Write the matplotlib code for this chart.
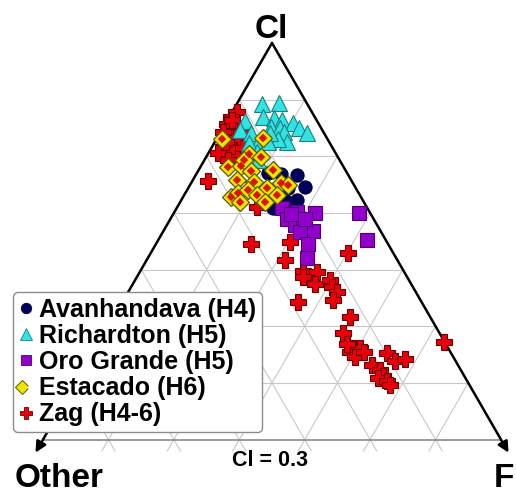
import numpy as np
import matplotlib
matplotlib.use("Agg")
import matplotlib.pyplot as plt
from matplotlib.lines import Line2D
from matplotlib.legend_handler import HandlerTuple

plt.rcParams['font.family'] = ['Liberation Sans', 'DejaVu Sans']

# ---- data: ternary fractions (Cl, F); Other = 1 - Cl - F ----
avan_cl = [0.771, 0.769, 0.767, 0.746, 0.723, 0.744, 0.728, 0.709, 0.718, 0.741]
avan_f  = [0.108, 0.130, 0.155, 0.178, 0.177, 0.153, 0.153, 0.147, 0.169, 0.136]

rich_cl = [0.893, 0.894, 0.869, 0.867, 0.864, 0.859, 0.862, 0.847, 0.841, 0.852, 0.850,
           0.843, 0.850, 0.841, 0.825, 0.831, 0.841, 0.820, 0.825, 0.824, 0.808, 0.794]
rich_f  = [0.038, 0.064, 0.052, 0.070, 0.083, 0.102, 0.028, 0.028, 0.047, 0.072, 0.087,
           0.097, 0.116, 0.133, 0.110, 0.094, 0.076, 0.067, 0.081, 0.053, 0.073, 0.082]

oro_cl = [0.709, 0.702, 0.700, 0.700, 0.690, 0.679, 0.676, 0.668, 0.667, 0.646, 0.621,
          0.653, 0.698, 0.690]
oro_f  = [0.161, 0.187, 0.216, 0.283, 0.178, 0.196, 0.210, 0.229, 0.210, 0.232, 0.243,
          0.319, 0.180, 0.206]

esta_cl = [0.831, 0.832, 0.804, 0.799, 0.781, 0.783, 0.774, 0.776, 0.758, 0.755, 0.753,
           0.750, 0.744, 0.728, 0.735, 0.741, 0.732, 0.720, 0.732, 0.720, 0.794]
esta_f  = [0.008, 0.070, 0.063, 0.084, 0.042, 0.061, 0.081, 0.114, 0.068, 0.095, 0.138,
           0.150, 0.121, 0.074, 0.081, 0.093, 0.111, 0.130, 0.142, 0.091, 0.060]

zag_cl = [0.878, 0.869, 0.857, 0.855, 0.843, 0.834, 0.829, 0.817, 0.811, 0.799, 0.806,
          0.794, 0.815, 0.843, 0.825, 0.864, 0.757, 0.711, 0.646, 0.649, 0.617, 0.630,
          0.598, 0.596, 0.587, 0.575, 0.582, 0.570, 0.561, 0.547, 0.543, 0.517, 0.489,
          0.462, 0.462, 0.455, 0.446, 0.452, 0.439, 0.443, 0.432, 0.423, 0.413, 0.409,
          0.404, 0.397, 0.473, 0.468, 0.455]
zag_f  = [0.008, 0.003, 0.003, 0.013, 0.030, 0.019, 0.037, 0.017, 0.035, 0.049, 0.015,
          0.036, 0.048, 0.003, 0.017, 0.007, 0.024, 0.122, 0.145, 0.203, 0.211, 0.301,
          0.249, 0.271, 0.254, 0.278, 0.298, 0.307, 0.319, 0.320, 0.268, 0.361, 0.364,
          0.393, 0.404, 0.392, 0.404, 0.450, 0.469, 0.482, 0.437, 0.454, 0.463, 0.458,
          0.474, 0.482, 0.527, 0.381, 0.413]

labels = ["Avanhandava (H4)", "Richardton (H5)", "Oro Grande (H5)", "Estacado (H6)", "Zag (H4-6)"]
grid_cl = [0.4, 0.5, 0.6, 0.7, 0.8, 0.9]
grid_f = [0.1, 0.2, 0.3, 0.4, 0.5, 0.6]
grid_other = [0.1, 0.2, 0.3, 0.4, 0.5, 0.6]
cl_min = 0.3


def tern(cl, f):
    cl = np.asarray(cl, dtype=float)
    f = np.asarray(f, dtype=float)
    return f + cl / 2.0, cl * np.sqrt(3) / 2.0


fig = plt.figure(figsize=(5.16, 4.93), dpi=100)
ax = fig.add_axes([0, 0, 1, 1])
ax.set_xlim(0.0843, 0.8729)
ax.set_ylim(0.1782, 0.9317)
ax.set_aspect('equal')
ax.axis('off')

gc = '#c8c8c8'
ext = 0.28
for c in grid_cl:
    ax.plot(*tern([c, c], [0, 1 - c]), color=gc, lw=0.8, zorder=1)
for f in grid_f:
    ax.plot(*tern([1 - f, ext], [f, f]), color=gc, lw=0.8, zorder=1)
for o in grid_other:
    ax.plot(*tern([1 - o, ext], [0, 1 - ext - o]), color=gc, lw=0.8, zorder=1)
ax.plot(*tern([cl_min, cl_min], [0, 1 - cl_min]), color='#8a8a8a', lw=1.2, zorder=1)

arrow = dict(arrowstyle='-|>', color='black', lw=1.8, mutation_scale=16,
             shrinkA=0, shrinkB=0)
apex = tern(1.0, 0.0)
ax.annotate('', xy=tern(0.277, 0.0), xytext=apex, arrowprops=arrow, zorder=2)
ax.annotate('', xy=tern(0.277, 0.723), xytext=apex, arrowprops=arrow, zorder=2)

# series
x, y = tern(zag_cl, zag_f)
ax.plot(x, y, ls='none', marker='P', ms=11.5, mfc='#e8000b', mec='#6a0000', mew=0.8, zorder=3)
x, y = tern(avan_cl, avan_f)
ax.plot(x, y, ls='none', marker='o', ms=9.5, mfc='#00005e', mec='#000030', mew=0.8, zorder=4)
x, y = tern(rich_cl, rich_f)
ax.plot(x, y, ls='none', marker='^', ms=11, mfc='#33e3e3', mec='#1a8080', mew=0.8, zorder=5)
x, y = tern(oro_cl, oro_f)
ax.plot(x, y, ls='none', marker='s', ms=9.5, mfc='#9300cc', mec='#4a0070', mew=0.8, zorder=6)
x, y = tern(esta_cl, esta_f)
ax.plot(x, y, ls='none', marker='D', ms=9, mfc='#f2e600', mec='#5a5a00', mew=0.9, zorder=7)
ax.plot(x, y, ls='none', marker='D', ms=3.6, mfc='#dd1500', mec='#dd1500', mew=0.3, zorder=8)

# legend
h_avan = Line2D([], [], ls='none', marker='o', ms=7.5, mfc='#00005e', mec='#000030', mew=0.6)
h_rich = Line2D([], [], ls='none', marker='^', ms=8.5, mfc='#33e3e3', mec='#1a8080', mew=0.6)
h_oro = Line2D([], [], ls='none', marker='s', ms=7.5, mfc='#9300cc', mec='#4a0070', mew=0.6)
h_est1 = Line2D([], [], ls='none', marker='D', ms=7.5, mfc='#f2e600', mec='#5a5a00', mew=0.7)
h_est2 = Line2D([], [], ls='none', marker='D', ms=3, mfc='white', mec='white', mew=0.3)
h_zag = Line2D([], [], ls='none', marker='P', ms=8.5, mfc='#e8000b', mec='#6a0000', mew=0.6)
leg = ax.legend([h_avan, h_rich, h_oro, (h_est1, h_est2), h_zag], labels,
                handler_map={tuple: HandlerTuple(ndivide=None, pad=0)},
                loc='upper left', bbox_to_anchor=(0.025, 1 - 292 / 493), borderaxespad=0,
                prop={'family': 'Liberation Sans', 'weight': 'bold', 'size': 18},
                handlelength=0.6, handletextpad=0.22, labelspacing=0.09,
                borderpad=0.22, fancybox=True, framealpha=1, edgecolor='#8c8c8c')
leg.get_frame().set_linewidth(1.0)
leg.set_zorder(10)

tf = dict(fontweight='bold', family='Liberation Sans', transform=ax.transAxes)
ax.text(271 / 516, 1 - 38 / 493, 'Cl', ha='center', va='baseline', fontsize=24, **tf)
ax.text(15 / 516, 1 - 487 / 493, 'Other', ha='left', va='baseline', fontsize=24, **tf)
ax.text(494 / 516, 1 - 487 / 493, 'F', ha='left', va='baseline', fontsize=24, **tf)
ax.text(270 / 516, 1 - 466 / 493, 'Cl = 0.3', ha='center', va='baseline', fontsize=15.5, **tf)

fig.savefig('out.png', dpi=100)
